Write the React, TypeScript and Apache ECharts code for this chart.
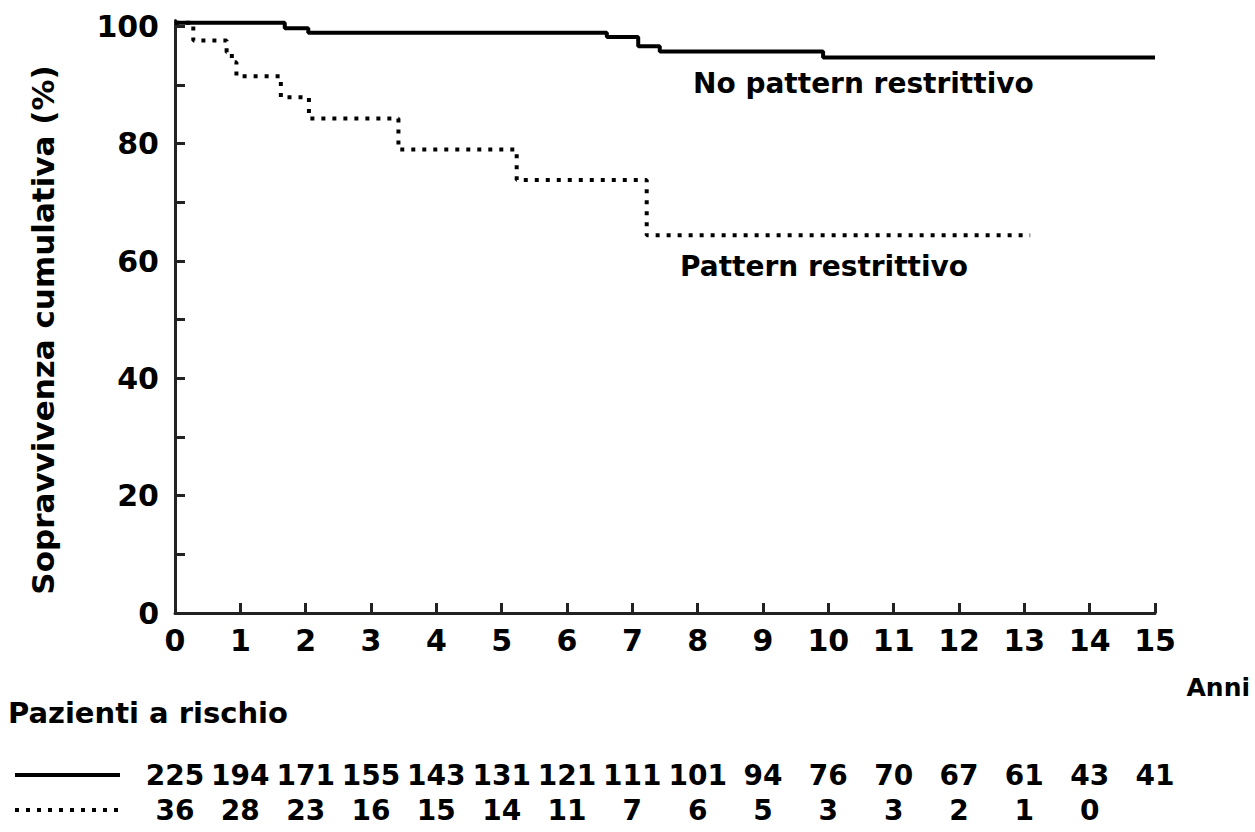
import React, { useEffect, useRef } from "react";
import * as echarts from "echarts";

const years = [0, 1, 2, 3, 4, 5, 6, 7, 8, 9, 10, 11, 12, 13, 14, 15];

const noRestrTimes = [0, 1.68, 2.04, 6.61, 7.09, 7.42, 9.92, 15];
const noRestrSurv = [100.6, 99.7, 98.9, 98.2, 96.6, 95.7, 94.7, 94.7];

const restrTimes = [0, 0.28, 0.79, 0.87, 0.94, 1.62, 2.05, 3.42, 5.23, 7.22, 13.09];
const restrSurv = [100.6, 97.6, 95.6, 93.9, 91.5, 87.9, 84.3, 79.0, 73.8, 64.4, 64.4];

const riskNoRestr = [225, 194, 171, 155, 143, 131, 121, 111, 101, 94, 76, 70, 67, 61, 43, 41];
const riskRestr = [36, 28, 23, 16, 15, 14, 11, 7, 6, 5, 3, 3, 2, 1, 0];

const labelNoRestr = "No pattern restrittivo";
const labelRestr = "Pattern restrittivo";
const yAxisName = "Sopravvivenza cumulativa (%)";
const xAxisName = "Anni";
const riskTitle = "Pazienti a rischio";

const FONT = "DejaVu Sans";

export default function App() {
  const ref = useRef<HTMLDivElement>(null);

  useEffect(() => {
    if (!ref.current) return;
    const chart = echarts.init(ref.current, undefined, { renderer: "svg" });
    const axisColor = "#222";
    const option: any = {
      animation: false,
      backgroundColor: "#fff",
      textStyle: { fontFamily: FONT },
      grid: { left: 175, right: 100, top: 20.5, bottom: 219, containLabel: false },
      xAxis: {
        type: "value",
        min: 0,
        max: 15,
        interval: 1,
        axisLine: { lineStyle: { color: axisColor, width: 3 } },
        axisTick: { inside: true, length: 10, lineStyle: { color: axisColor, width: 3 } },
        axisLabel: { color: "#000", fontFamily: FONT, fontWeight: "bold", fontSize: 30, margin: 12 },
        splitLine: { show: false },
      },
      yAxis: {
        type: "value",
        min: 0,
        max: 101,
        interval: 10,
        axisLine: { lineStyle: { color: axisColor, width: 3 } },
        axisTick: { inside: true, length: 10, lineStyle: { color: axisColor, width: 3 } },
        axisLabel: {
          color: "#000",
          fontFamily: FONT,
          fontWeight: "bold",
          fontSize: 30,
          margin: 16,
          showMaxLabel: false,
          formatter: (v: number) => (v % 20 === 0 ? String(v) : ""),
        },
        splitLine: { show: false },
      },
      series: [
        {
          name: labelNoRestr,
          type: "line",
          step: "end",
          showSymbol: false,
          data: noRestrTimes.map((t, i) => [t, noRestrSurv[i]]),
          lineStyle: { color: "#000", width: 4 },
        },
        {
          name: labelRestr,
          type: "line",
          step: "end",
          showSymbol: false,
          data: restrTimes.map((t, i) => [t, restrSurv[i]]),
          lineStyle: { color: "#000", width: 4, type: [4, 7], cap: "butt" },
        },
      ],
    };
    chart.setOption(option);

    const textStyle = (size: number, extra: any) => ({
      fill: "#000",
      font: `bold ${size}px '${FONT}'`,
      ...extra,
    });
    const graphics: any[] = [];
    graphics.push({
      type: "text",
      x: 43,
      y: 330,
      rotation: Math.PI / 2,
      style: textStyle(31, { text: yAxisName, align: "center", verticalAlign: "middle" }),
    });
    graphics.push({ type: "text", left: 693, top: 69, style: textStyle(28, { text: labelNoRestr }) });
    graphics.push({ type: "text", left: 680, top: 252, style: textStyle(28, { text: labelRestr }) });
    graphics.push({ type: "text", right: 5, top: 675, style: textStyle(25, { text: xAxisName }) });
    graphics.push({ type: "text", left: 8, top: 698, style: textStyle(29, { text: riskTitle }) });

    const row1Y = 775;
    const row2Y = 810;
    graphics.push({ type: "line", shape: { x1: 15, y1: row1Y, x2: 120, y2: row1Y }, style: { stroke: "#000", lineWidth: 4 } });
    graphics.push({ type: "line", shape: { x1: 15, y1: row2Y, x2: 120, y2: row2Y }, style: { stroke: "#000", lineWidth: 4, lineDash: [4, 7] } });

    riskNoRestr.forEach((n, i) => {
      const x = chart.convertToPixel({ xAxisIndex: 0 }, years[i]) as number;
      graphics.push({
        type: "text",
        x,
        y: row1Y,
        style: textStyle(28, { text: String(n), align: "center", verticalAlign: "middle" }),
      });
    });
    riskRestr.forEach((n, i) => {
      const x = chart.convertToPixel({ xAxisIndex: 0 }, years[i]) as number;
      graphics.push({
        type: "text",
        x,
        y: row2Y,
        style: textStyle(28, { text: String(n), align: "center", verticalAlign: "middle" }),
      });
    });
    chart.setOption({ graphic: graphics });

    return () => chart.dispose();
  }, []);

  return (
    <div
      ref={ref}
      style={{ position: "absolute", left: 0, top: 0, width: 1255, height: 832 }}
    />
  );
}
